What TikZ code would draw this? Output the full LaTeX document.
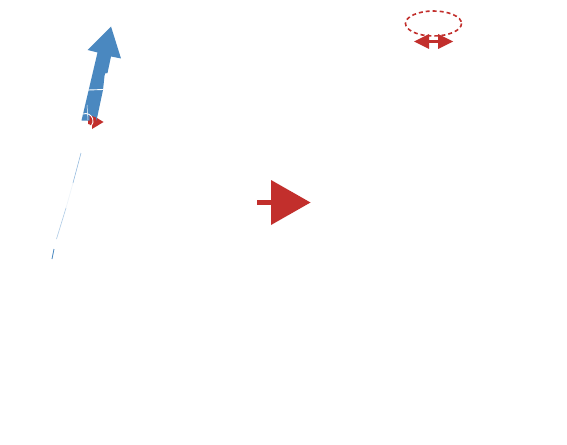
\documentclass[tikz,border=0pt]{standalone}
\definecolor{arrowred}{HTML}{C22F2C}
\definecolor{arrowblue}{HTML}{4A88C0}
\definecolor{faintblue}{HTML}{8DB6DC}
\tikzset{
  redfill/.style={fill=arrowred,draw=none},
  bluefill/.style={fill=arrowblue,draw=none},
  gapline/.style={draw=white,line width=0.9pt},
  faintline/.style={draw=faintblue,line width=0.6pt}
}
\begin{document}
\begin{tikzpicture}[x=1pt,y=-1pt]
\useasboundingbox[fill=white] (0,0) rectangle (567,444);
% small red arrow behind the blue arrow's foot
\fill[redfill] (88,120) -- (92,120) -- (92,115) -- (103.5,122) -- (92,129) -- (92,124) -- (88,124) -- cycle;
% blue arrow
\fill[bluefill] (111,26.5) -- (121,58.5) -- (111,56.5) -- (107.5,73) -- (105,73.5) -- (104.5,76) -- (103,90) -- (96.5,120.5) -- (81.5,120.5) -- (97.5,52.5) -- (87.5,50) -- cycle;
\fill[redfill] (89.5,115) -- (96,117.5) -- (97,125) -- (89.5,125) -- cycle;
\draw[gapline] (88,90) -- (103.5,89.5);
\draw[gapline] (83,114) arc[start angle=250,end angle=440,radius=7.5];
\draw[draw=white,line width=0.5pt] (88,120) -- (87,105);
% faint line
\draw[faintline,draw opacity=0.9] (81,153) -- (73,183);
\draw[faintline,draw opacity=0.15] (73,183) -- (66,208);
\draw[faintline,draw opacity=0.7] (66,208) -- (56.5,239);
\draw[faintline,draw=arrowblue,line width=0.8pt] (54,249) -- (52,259);
% centre arrow
\fill[redfill] (257,200) rectangle (271,205);
\fill[redfill] (271,180) -- (310.5,202.5) -- (271,225) -- cycle;
% top right
\draw[draw=arrowred,line width=1.6pt,dash pattern=on 4pt off 3pt] (433.5,23.5) ellipse[x radius=28,y radius=12.5];
\fill[redfill] (414,41.5) -- (429,34) -- (429,49) -- cycle;
\fill[redfill] (453,41.5) -- (438,34) -- (438,49) -- cycle;
\fill[redfill] (429,40) rectangle (438,43);
\end{tikzpicture}
\end{document}
